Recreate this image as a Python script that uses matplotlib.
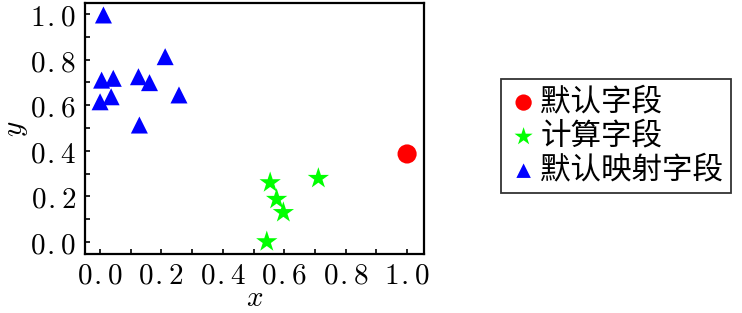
import matplotlib
matplotlib.use("Agg")
import matplotlib.pyplot as plt
from matplotlib.ticker import MultipleLocator, FuncFormatter

plt.rcParams['mathtext.fontset'] = 'cm'
plt.rcParams['font.family'] = ['Noto Sans CJK SC', 'DejaVu Sans']

# Data
default_x = [1.0]
default_y = [0.386]
calc_x = [0.554, 0.575, 0.597, 0.543, 0.711]
calc_y = [0.26, 0.187, 0.129, 0.001, 0.279]
map_x = [0.011, 0.005, 0.043, 0.0, 0.036, 0.125, 0.161, 0.212, 0.257, 0.128]
map_y = [0.996, 0.71, 0.718, 0.615, 0.637, 0.725, 0.699, 0.813, 0.645, 0.513]
labels = ['默认字段', '计算字段', '默认映射字段']

fig = plt.figure(figsize=(7.42, 3.13), dpi=100)
ax = fig.add_axes([0.1146, 0.1885, 0.4568, 0.8015])

h1 = ax.scatter(default_x, default_y, marker='o', s=190, color='#ff0000', edgecolors='none', label=labels[0])
h2 = ax.scatter(calc_x, calc_y, marker='*', s=260, color='#00ff00', edgecolors='none', label=labels[1])
h3 = ax.scatter(map_x, map_y, marker='^', s=150, color='#0000ff', edgecolors='none', label=labels[2])

ax.set_xlim(-0.049, 1.055)
ax.set_ylim(-0.053, 1.048)
ax.xaxis.set_major_locator(MultipleLocator(0.2))
ax.xaxis.set_minor_locator(MultipleLocator(0.1))
ax.yaxis.set_major_locator(MultipleLocator(0.2))
ax.yaxis.set_minor_locator(MultipleLocator(0.1))


def fmt_func(v, p):
    s = '%.1f' % (abs(v) if abs(v) < 1e-9 else v)
    a, b = s.split('.')
    return r'$%s\hspace{0.06}.\hspace{0.06}%s$' % (a, b)


fmt = FuncFormatter(fmt_func)
ax.xaxis.set_major_formatter(fmt)
ax.yaxis.set_major_formatter(fmt)
ax.tick_params(which='both', direction='in', top=False, right=False, width=1.2, length=3.5,
               labelsize=21, colors='black')
ax.tick_params(axis='x', pad=5)
ax.tick_params(axis='y', pad=6)
for s in ax.spines.values():
    s.set_linewidth(1.6)

ax.set_xlabel(r'$x$', fontsize=21, labelpad=-6)
ax.set_ylabel(r'$y$', fontsize=21, labelpad=0)

leg = fig.legend(handles=[h1, h2, h3], labels=labels, loc='center',
                 bbox_to_anchor=(0.830, 0.565), fontsize=22, frameon=True,
                 fancybox=False, edgecolor='black', handletextpad=0.05,
                 handlelength=1.0, borderpad=0.25, labelspacing=0.1, markerscale=0.85,
                 borderaxespad=0)
leg.get_frame().set_linewidth(1.3)

fig.savefig('out.png', dpi=100)
